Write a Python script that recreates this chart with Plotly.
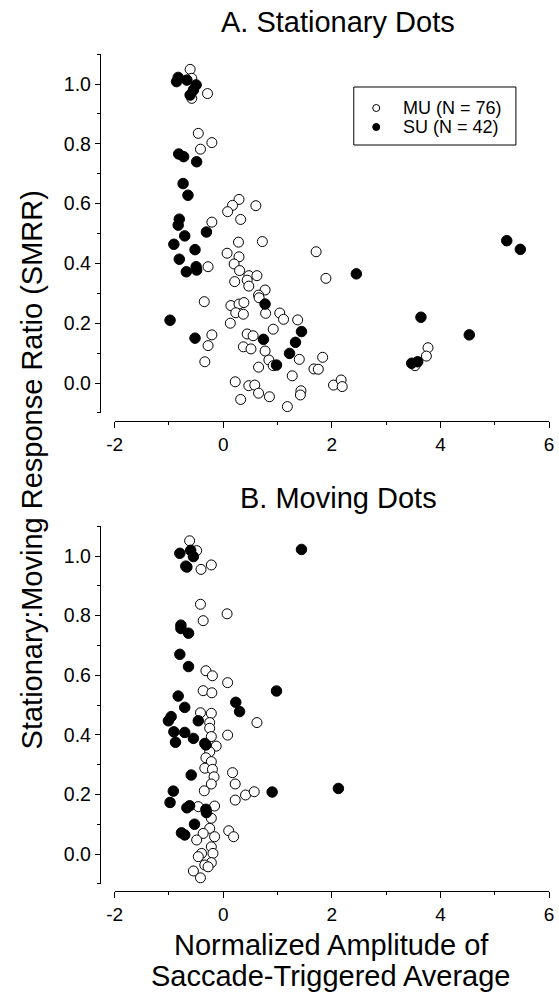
import plotly.graph_objects as go

# ---------------- data ----------------
# Panel A: Stationary dots
a_mu_x = [-0.61, -0.58, -0.29, -0.58, -0.46, -0.21, -0.42, 0.29, 0.17, 0.60, 0.08, 0.32, -0.21,
          0.28, 0.72, 0.07, 0.29, 1.71, 0.20, 0.30, -0.28, 0.47, 0.62, 0.21, 0.44, 0.47, 1.89,
          0.77, 0.65, 0.66, -0.35, 0.14, 0.29, 0.38, 0.23, 0.37, 0.13, 0.78, 1.04, 1.11, 1.37,
          0.92, -0.21, -0.28, 0.44, 0.55, 0.37, 0.51, 0.77, -0.34, 0.84, 0.92, 0.65, 1.40, 1.83,
          1.67, 1.75, 1.27, 0.22, 0.47, 0.58, 0.65, 0.85, 0.32, 1.18, 1.43, 1.42, 2.03, 2.17,
          2.19, 3.77, 3.74, 3.53]
a_mu_y = [1.049, 1.019, 0.968, 0.952, 0.835, 0.804, 0.782, 0.614, 0.594, 0.593, 0.573, 0.547, 0.538,
          0.471, 0.473, 0.434, 0.422, 0.439, 0.398, 0.376, 0.389, 0.359, 0.359, 0.339, 0.344, 0.324, 0.350,
          0.311, 0.294, 0.285, 0.272, 0.259, 0.264, 0.269, 0.235, 0.230, 0.200, 0.233, 0.234, 0.213, 0.211,
          0.180, 0.161, 0.125, 0.164, 0.158, 0.121, 0.114, 0.107, 0.071, 0.077, 0.058, 0.053, 0.079, 0.086,
          0.047, 0.046, 0.024, 0.004, -0.009, -0.007, -0.034, -0.046, -0.055, -0.079, -0.026, -0.040, -0.007, 0.010,
          -0.012, 0.118, 0.090, 0.058]
a_su_x = [-0.83, -0.86, -0.67, -0.50, -0.55, -0.61, -0.82, -0.73, -0.49, -0.74, -0.65, -0.81, -0.83,
          -0.71, -0.31, -0.91, -0.52, -0.81, -0.50, -0.49, -0.68, -0.52, -0.98, 0.77, 1.44, 1.33,
          0.74, 1.22, 0.98, 2.45, 5.22, 5.47, 3.64, 4.53, 3.47, 3.58]
a_su_y = [1.022, 1.008, 1.013, 0.997, 0.980, 0.963, 0.766, 0.757, 0.740, 0.667, 0.628, 0.548, 0.528,
          0.492, 0.505, 0.464, 0.446, 0.414, 0.389, 0.378, 0.372, 0.150, 0.210, 0.264, 0.172, 0.136,
          0.146, 0.099, 0.060, 0.365, 0.476, 0.447, 0.220, 0.161, 0.066, 0.071]

# Panel B: Moving dots
b_mu_x = [-0.62, -0.49, -0.22, -0.41, -0.42, 0.07, -0.37, -0.32, -0.20, 0.08, -0.37, -0.21, 0.62,
          -0.42, -0.22, -0.25, -0.25, 0.08, -0.22, -0.13, -0.25, -0.32, -0.22, -0.34, -0.20, 0.17,
          0.22, -0.17, -0.22, -0.35, 0.41, 0.57, 0.22, -0.46, -0.16, -0.22, -0.25, 0.10, 0.19, -0.16,
          -0.37, -0.49, -0.22, -0.19, -0.40, -0.46, -0.22, -0.34, -0.28, -0.55, -0.42]
b_mu_y = [1.051, 1.018, 0.970, 0.955, 0.838, 0.806, 0.783, 0.615, 0.598, 0.575, 0.548, 0.541, 0.441,
          0.474, 0.472, 0.441, 0.422, 0.399, 0.394, 0.362, 0.343, 0.323, 0.310, 0.288, 0.284, 0.273,
          0.235, 0.259, 0.235, 0.212, 0.198, 0.209, 0.181, 0.159, 0.161, 0.120, 0.086, 0.078, 0.058, 0.058,
          0.069, 0.047, 0.024, 0.002, 0.002, -0.009, -0.029, -0.037, -0.043, -0.057, -0.080]
b_su_x = [-0.80, -0.60, -0.55, -0.69, -0.67, -0.78, -0.78, -0.64, -0.80, -0.64, -0.83, 0.98, 1.44,
          0.23, 0.30, 0.90, 2.12, -0.71, -1.01, -0.96, -0.46, -0.91, -0.71, -0.88, -0.55, -0.34,
          -0.32, -0.59, -0.92, -0.98, -0.67, -0.62, -0.32, -0.31, -0.53, -0.77, -0.71]
b_su_y = [1.009, 1.019, 0.998, 0.966, 0.963, 0.768, 0.757, 0.741, 0.670, 0.629, 0.530, 0.547, 1.022,
          0.509, 0.478, 0.208, 0.220, 0.492, 0.447, 0.461, 0.447, 0.410, 0.408, 0.375, 0.388, 0.371,
          0.366, 0.265, 0.211, 0.173, 0.155, 0.162, 0.150, 0.139, 0.100, 0.071, 0.064]

x_ticks = [-2, 0, 2, 4, 6]
y_ticks = [0.0, 0.2, 0.4, 0.6, 0.8, 1.0]
legend_labels = ["MU (N = 76)", "SU (N = 42)"]
panel_titles = ["A. Stationary Dots", "B. Moving Dots"]
x_title = ["Normalized Amplitude of", "Saccade-Triggered Average"]
y_title = "Stationary:Moving Response Ratio (SMRR)"

# ---------------- figure ----------------
W, H = 559, 995
FONT = "Liberation Sans, Arial, sans-serif"

def px_x(p):
    return p / W

def px_y(p):
    return 1 - p / H

fig = go.Figure()

open_marker = dict(symbol="circle", size=10, color="white", line=dict(color="black", width=1))
fill_marker = dict(symbol="circle", size=10.5, color="black", line=dict(color="black", width=1))

fig.add_trace(go.Scatter(x=a_mu_x, y=a_mu_y, mode="markers", marker=open_marker,
                         xaxis="x", yaxis="y", showlegend=False))
fig.add_trace(go.Scatter(x=a_su_x, y=a_su_y, mode="markers", marker=fill_marker,
                         xaxis="x", yaxis="y", showlegend=False))
fig.add_trace(go.Scatter(x=b_mu_x, y=b_mu_y, mode="markers", marker=open_marker,
                         xaxis="x2", yaxis="y2", showlegend=False))
fig.add_trace(go.Scatter(x=b_su_x, y=b_su_y, mode="markers", marker=fill_marker,
                         xaxis="x2", yaxis="y2", showlegend=False))

x_dom = [px_x(109.2), px_x(554.0)]
yA_dom = [px_y(412.9), px_y(54.1)]
yB_dom = [px_y(883.8), px_y(526.2)]
y_axis_pos = px_x(94)

tickfont_x = dict(family=FONT, size=19, color="black")
tickfont_y = dict(family=FONT, size=19.5, color="black")

def xaxis_cfg(pos):
    return dict(domain=x_dom, range=[-2, 6], anchor="free", position=pos,
                tickvals=x_ticks, ticktext=[str(t) for t in x_ticks],
                ticks="outside", ticklen=6, tickwidth=1, tickcolor="black",
                minor=dict(dtick=1, tick0=-1, ticks="outside", ticklen=3, tickcolor="black", tickwidth=1),
                showline=True, linecolor="black", linewidth=1, showgrid=False, zeroline=False,
                ticklabeloverflow="allow",
                tickfont=tickfont_x)

def yaxis_cfg(dom):
    return dict(domain=dom, range=[-0.1, 1.1], anchor="free", position=y_axis_pos,
                tickvals=y_ticks, ticktext=["%.1f" % t for t in y_ticks],
                ticks="outside", ticklen=5, tickwidth=1, tickcolor="black",
                minor=dict(tickvals=[-0.1, 0.1, 0.3, 0.5, 0.7, 0.9, 1.1], ticks="outside",
                           ticklen=3, tickcolor="black", tickwidth=1),
                showline=True, linecolor="black", linewidth=1, showgrid=False, zeroline=False,
                tickfont=tickfont_y)

fig.update_layout(
    width=W, height=H, margin=dict(l=0, r=0, t=0, b=0),
    paper_bgcolor="white", plot_bgcolor="white",
    xaxis=xaxis_cfg(px_y(421)),
    yaxis=yaxis_cfg(yA_dom),
    xaxis2=xaxis_cfg(px_y(891)),
    yaxis2=yaxis_cfg(yB_dom),
    showlegend=False,
)

ann = []
ann.append(dict(text=panel_titles[0], x=px_x(338), y=px_y(22), xref="paper", yref="paper",
                showarrow=False, xanchor="center", yanchor="middle",
                font=dict(family=FONT, size=29, color="black")))
ann.append(dict(text=panel_titles[1], x=px_x(338), y=px_y(498), xref="paper", yref="paper",
                showarrow=False, xanchor="center", yanchor="middle",
                font=dict(family=FONT, size=29, color="black")))
ann.append(dict(text=x_title[0], x=px_x(331), y=px_y(945), xref="paper", yref="paper",
                showarrow=False, xanchor="center", yanchor="middle",
                font=dict(family=FONT, size=29, color="black")))
ann.append(dict(text=x_title[1], x=px_x(331), y=px_y(976), xref="paper", yref="paper",
                showarrow=False, xanchor="center", yanchor="middle",
                font=dict(family=FONT, size=29, color="black")))
ann.append(dict(text=y_title, x=px_x(25), y=px_y(470), xref="paper", yref="paper",
                showarrow=False, xanchor="center", yanchor="middle", textangle=-90,
                font=dict(family=FONT, size=29, color="black")))
# legend texts
ann.append(dict(text=legend_labels[0], x=px_x(402), y=px_y(108), xref="paper", yref="paper",
                showarrow=False, xanchor="left", yanchor="middle",
                font=dict(family=FONT, size=18, color="black")))
ann.append(dict(text=legend_labels[1], x=px_x(402), y=px_y(127), xref="paper", yref="paper",
                showarrow=False, xanchor="left", yanchor="middle",
                font=dict(family=FONT, size=18, color="black")))
fig.update_layout(annotations=ann)

shapes = []
shapes.append(dict(type="rect", xref="paper", yref="paper",
                   x0=px_x(354), x1=px_x(520), y0=px_y(145), y1=px_y(87),
                   line=dict(color="black", width=1), fillcolor="white", layer="above"))
# legend symbols
for cy, fill in [(108, "white"), (127, "black")]:
    shapes.append(dict(type="circle", xref="paper", yref="paper",
                       xsizemode="pixel", ysizemode="pixel",
                       xanchor=px_x(377), yanchor=px_y(cy),
                       x0=-3.5, x1=3.5, y0=-3.5, y1=3.5,
                       line=dict(color="black", width=1), fillcolor=fill, layer="above"))
fig.update_layout(shapes=shapes)

fig.write_html("out.html")
